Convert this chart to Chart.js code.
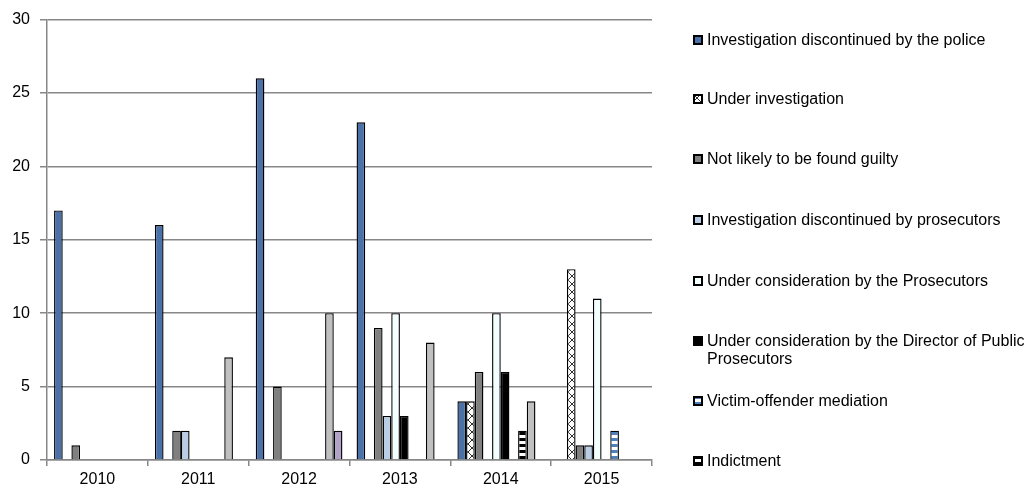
<!DOCTYPE html>
<html>
<head>
<meta charset="utf-8">
<script src="https://cdn.jsdelivr.net/npm/chart.js@4.4.1/dist/chart.umd.min.js"></script>
<style>
  html, body { margin: 0; padding: 0; background: #fff; }
  #wrap { position: relative; width: 1034px; height: 495px; }
  #legend { position: absolute; left: 693px; top: 0; width: 341px; font: 16px "Liberation Sans", Arial, sans-serif; color: #000; }
  .item { position: absolute; left: 0; display: flex; align-items: flex-start; }
  .item canvas { flex: none; margin-top: 4px; margin-right: 4px; }
  .item span { display: block; width: 327px; line-height: 18px; }
</style>
</head>
<body>
<div id="wrap">
  <canvas id="chart" width="1034" height="495"></canvas>
  <div id="legend"></div>
</div>
<script>
// categories and series
var years = ['2010', '2011', '2012', '2013', '2014', '2015'];
var policeDiscontinued   = [17, 16, 26, 23, 4, 0];
var underInvestigation   = [0, 0, 0, 0, 4, 13];
var notLikelyGuilty      = [1, 2, 5, 9, 6, 1];
var prosecDiscontinued   = [0, 2, 0, 3, 0, 1];
var consideredProsec     = [0, 0, 0, 10, 10, 11];
var consideredDirector   = [0, 0, 0, 3, 6, 0];
var victimMediation      = [0, 0, 0, 0, 0, 2];
var indictment           = [0, 0, 0, 0, 2, 0];
var otherGray            = [0, 7, 10, 8, 4, 0];   // no legend entry in the source
var otherPurple          = [0, 0, 2, 0, 0, 0];   // no legend entry in the source
var yTicks = [0, 5, 10, 15, 20, 25, 30];

var FONT = '"Liberation Sans", Arial, sans-serif';
var GRID = '#878787';

function makePattern(w, h, draw) {
  var c = document.createElement('canvas');
  c.width = w; c.height = h;
  var g = c.getContext('2d');
  draw(g, w, h);
  return g.createPattern(c, 'repeat');
}

var crossHatch = makePattern(8, 8, function (g) {
  g.fillStyle = '#fff'; g.fillRect(0, 0, 8, 8);
  g.strokeStyle = '#333'; g.lineWidth = 1;
  g.beginPath();
  g.moveTo(0, 0); g.lineTo(8, 8);
  g.moveTo(8, 0); g.lineTo(0, 8);
  g.stroke();
});
var blueStripes = makePattern(4, 6, function (g) {
  g.fillStyle = '#fff'; g.fillRect(0, 0, 4, 6);
  g.fillStyle = '#4f81bd'; g.fillRect(0, 0, 4, 3);
});
var blackStripes = makePattern(4, 6, function (g) {
  g.fillStyle = '#fff'; g.fillRect(0, 0, 4, 6);
  g.fillStyle = '#000'; g.fillRect(0, 0, 4, 3);
});

function ds(label, data, fill, inLegend) {
  return {
    label: label,
    data: data,
    backgroundColor: fill,
    borderColor: '#000',
    borderWidth: function (ctx) { return ctx.raw ? 1.4 : 0; },
    categoryPercentage: 0.86,
    barPercentage: 1.0,
    inLegend: inLegend !== false
  };
}

var datasets = [
  ds('Investigation discontinued by the police', policeDiscontinued, '#4a72a8'),
  ds('Under investigation', underInvestigation, crossHatch),
  ds('Not likely to be found guilty', notLikelyGuilty, '#808080'),
  ds('Investigation discontinued by prosecutors', prosecDiscontinued, '#b9cde5'),
  ds('Under consideration by the Prosecutors', consideredProsec, '#f3ffff'),
  ds('Under consideration by the Director of Public Prosecutors', consideredDirector, '#000'),
  ds('Victim-offender mediation', victimMediation, blueStripes),
  ds('Indictment', indictment, blackStripes),
  ds('Other (gray)', otherGray, '#c0c0c0', false),
  ds('Other (purple)', otherPurple, '#b3a2c7', false)
];

var chart = new Chart(document.getElementById('chart'), {
  type: 'bar',
  data: { labels: years, datasets: datasets },
  options: {
    responsive: false,
    animation: false,
    layout: { padding: { top: 17, right: 382, left: 0, bottom: 0 } },
    plugins: { legend: { display: false }, tooltip: { enabled: false } },
    scales: {
      x: {
        grid: { offset: true, drawOnChartArea: false, drawTicks: true, tickLength: 6, color: GRID, lineWidth: 1.5 },
        border: { color: GRID, width: 1.5 },
        ticks: { color: '#000', font: { family: FONT, size: 16 }, padding: 4, maxRotation: 0 },
        afterFit: function (s) { s.height = 35; }
      },
      y: {
        min: 0, max: 30,
        afterBuildTicks: function (s) { s.ticks = yTicks.map(function (v) { return { value: v }; }); },
        grid: { color: GRID, lineWidth: 1.5, tickLength: 7 },
        border: { color: GRID, width: 1.5 },
        ticks: { color: '#000', font: { family: FONT, size: 16 }, padding: 10 },
        afterFit: function (s) { s.width = 47; }
      }
    }
  }
});

// html legend, so the long entry can wrap like in the source
var legendTops = [31, 90, 150, 211, 272, 332, 392, 452];
var legendEl = document.getElementById('legend');
chart.data.datasets.filter(function (d) { return d.inLegend; }).forEach(function (d, i) {
  var item = document.createElement('div');
  item.className = 'item';
  item.style.top = legendTops[i] + 'px';
  var m = document.createElement('canvas');
  m.width = 10; m.height = 10;
  var g = m.getContext('2d');
  g.fillStyle = d.backgroundColor; g.fillRect(0, 0, 10, 10);
  g.strokeStyle = '#000'; g.lineWidth = 2; g.strokeRect(1, 1, 8, 8);
  var t = document.createElement('span');
  t.textContent = d.label;
  item.appendChild(m); item.appendChild(t);
  legendEl.appendChild(item);
});
</script>
</body>
</html>
